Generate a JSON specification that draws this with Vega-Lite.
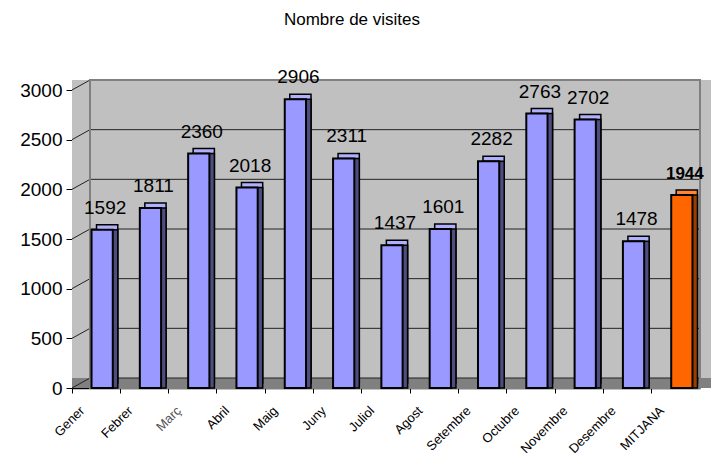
{
  "$schema": "https://vega.github.io/schema/vega-lite/v6.json",
  "width": 628,
  "height": 298,
  "autosize": "none",
  "padding": {"left": 72, "top": 90, "right": 11, "bottom": 69},
  "background": "white",
  "config": {"view": {"stroke": null}, "font": "Liberation Sans"},
  "title": {"text": "Nombre de visites", "fontSize": 17, "fontWeight": "normal", "color": "black", "anchor": "middle", "offset": 39, "dx": -34, "font": "Liberation Sans"},
  "datasets": {
    "visites": [
      {"mes": "Gener", "visites": 1592},
      {"mes": "Febrer", "visites": 1811},
      {"mes": "Març", "visites": 2360},
      {"mes": "Abril", "visites": 2018},
      {"mes": "Maig", "visites": 2906},
      {"mes": "Juny", "visites": 2311},
      {"mes": "Juliol", "visites": 1437},
      {"mes": "Agost", "visites": 1601},
      {"mes": "Setembre", "visites": 2282},
      {"mes": "Octubre", "visites": 2763},
      {"mes": "Novembre", "visites": 2702},
      {"mes": "Desembre", "visites": 1478},
      {"mes": "MITJANA", "visites": 1944}
    ],
    "graella": [
      {"v": 0}, {"v": 500}, {"v": 1000}, {"v": 1500}, {"v": 2000}, {"v": 2500}, {"v": 3000}
    ],
    "paret": [{"baix": 0, "dalt": 3000}]
  },
  "data": {"name": "visites"},
  "layer": [
    {
      "data": {"name": "paret"},
      "mark": {"type": "rect", "fill": "#C0C0C0", "x2Offset": 18, "yOffset": -10},
      "encoding": {
        "x": {"value": 0},
        "x2": {"value": "width"},
        "y": {"field": "dalt", "type": "quantitative", "scale": {"domain": [0, 3000], "nice": false}, "axis": {"values": [0, 500, 1000, 1500, 2000, 2500, 3000], "format": "d", "title": null, "labelFontSize": 19, "labelColor": "black", "labelPadding": 4, "tickColor": "black", "tickSize": 6, "domainColor": "black", "grid": false, "domainWidth": 1}},
        "y2": {"field": "baix"}
      }
    },
    {
      "data": {"name": "paret"},
      "mark": {"type": "rect", "fill": "#808080", "x2Offset": 18, "y2Offset": -10},
      "encoding": {
        "x": {"value": 0},
        "x2": {"value": "width"},
        "y": {"field": "baix", "type": "quantitative"},
        "y2": {"field": "baix"}
      }
    },
    {
      "data": {"name": "graella"},
      "mark": {"type": "rule", "color": "#222222", "strokeWidth": 1, "xOffset": 18, "yOffset": -10},
      "encoding": {
        "x": {"value": 0},
        "x2": {"value": "width"},
        "y": {"field": "v", "type": "quantitative"}
      }
    },
    {
      "data": {"name": "graella"},
      "mark": {"type": "rule", "color": "#222222", "strokeWidth": 1, "y2Offset": -10},
      "encoding": {
        "x": {"value": 0},
        "x2": {"value": 18},
        "y": {"field": "v", "type": "quantitative"},
        "y2": {"field": "v"}
      }
    },
    {
      "data": {"name": "paret"},
      "mark": {"type": "rect", "fill": null, "stroke": "#808080", "strokeWidth": 2, "xOffset": 18, "yOffset": -10},
      "encoding": {
        "x": {"value": 0},
        "x2": {"value": "width"},
        "y": {"field": "dalt", "type": "quantitative"},
        "y2": {"field": "baix"}
      }
    },
    {
      "mark": {"type": "bar", "width": {"band": 0.44}, "xOffset": 11, "yOffset": -5, "stroke": "black", "strokeWidth": 1.5},
      "encoding": {
        "x": {"field": "mes", "type": "nominal", "sort": null, "scale": {"paddingInner": 0, "paddingOuter": 0}, "axis": {"title": null, "labelAngle": -45, "labelFontSize": 13, "labelColor": {"condition": {"test": "datum.value === 'Març'", "value": "#555555"}, "value": "black"}, "bandPosition": 0, "labelOffset": -18, "tickColor": "black", "tickSize": 5, "domainColor": "black", "domainWidth": 1.5, "labelPadding": 11}},
        "y": {"field": "visites", "type": "quantitative"},
        "fill": {"condition": {"test": "datum.mes === 'MITJANA'", "value": "#FF8533"}, "value": "#B0B0FF"}
      }
    },
    {
      "mark": {"type": "bar", "width": {"band": 0.44}, "xOffset": 11, "stroke": "black", "strokeWidth": 1.5},
      "encoding": {
        "x": {"field": "mes", "type": "nominal", "sort": null},
        "y": {"field": "visites", "type": "quantitative"},
        "fill": {"condition": {"test": "datum.mes === 'MITJANA'", "value": "#993D00"}, "value": "#4D4D80"}
      }
    },
    {
      "mark": {"type": "bar", "width": {"band": 0.44}, "xOffset": 6, "stroke": "black", "strokeWidth": 2},
      "encoding": {
        "x": {"field": "mes", "type": "nominal", "sort": null},
        "y": {"field": "visites", "type": "quantitative"},
        "fill": {"condition": {"test": "datum.mes === 'MITJANA'", "value": "#FF6600"}, "value": "#9999FF"}
      }
    },
    {
      "transform": [{"filter": "datum.mes !== 'MITJANA'"}],
      "mark": {"type": "text", "fontSize": 19, "baseline": "bottom", "xOffset": 9, "yOffset": -12, "color": "black"},
      "encoding": {
        "x": {"field": "mes", "type": "nominal", "sort": null},
        "y": {"field": "visites", "type": "quantitative"},
        "text": {"field": "visites", "type": "quantitative"}
      }
    },
    {
      "transform": [{"filter": "datum.mes === 'MITJANA'"}],
      "mark": {"type": "text", "fontSize": 17, "fontWeight": "bold", "baseline": "bottom", "xOffset": 9, "yOffset": -12, "color": "black"},
      "encoding": {
        "x": {"field": "mes", "type": "nominal", "sort": null},
        "y": {"field": "visites", "type": "quantitative"},
        "text": {"field": "visites", "type": "quantitative"}
      }
    }
  ]
}
